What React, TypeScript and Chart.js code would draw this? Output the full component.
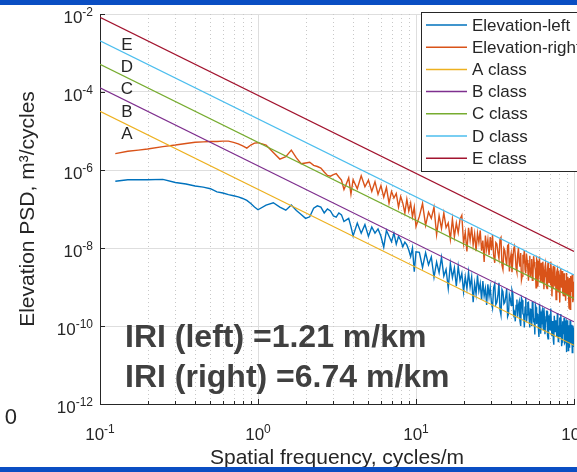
import { useEffect, useRef } from "react";
import { Chart, registerables } from "chart.js";

Chart.register(...registerables);

// Spatial frequency grid (cycles/m)
const FREQ = [
  0.125, 0.15, 0.175, 0.2, 0.25, 0.3, 0.35, 0.4, 0.45, 0.5, 0.55, 0.6, 0.65, 0.7, 0.75, 0.8, 0.85, 0.9, 0.95, 1,
  1.125, 1.25, 1.375, 1.5, 1.625, 1.75, 1.875, 2, 2.125, 2.25, 2.375, 2.5, 2.625, 2.75, 2.875, 3, 3.125, 3.25, 3.375, 3.5, 3.625, 3.75, 3.875, 4,
  4.25, 4.5, 4.75, 5, 5.25, 5.5, 5.75, 6, 6.25, 6.5, 6.75, 7, 7.25, 7.5, 7.75, 8, 8.25, 8.5, 8.75, 9, 9.25, 9.5, 9.75, 10,
  10.5, 11, 11.5, 12, 12.5, 13, 13.5, 14, 14.5, 15, 15.5, 16, 16.5, 17, 17.5, 18, 18.5, 19, 19.5, 20,
  20.5, 21, 21.5, 22, 22.5, 23, 23.5, 24, 24.5, 25, 25.5, 26, 26.5, 27, 27.5, 28, 28.5, 29, 29.5, 30,
  30.5, 31, 31.5, 32, 32.5, 33, 33.5, 34, 34.5, 35, 35.5, 36, 36.5, 37, 37.5, 38, 38.5, 39, 39.5, 40,
  40.5, 41, 41.5, 42, 42.5, 43, 43.5, 44, 44.5, 45, 45.5, 46, 46.5, 47, 47.5, 48, 48.5, 49, 49.5, 50,
  50.5, 51, 51.5, 52, 52.5, 53, 53.5, 54, 54.5, 55, 55.5, 56, 56.5, 57, 57.5, 58, 58.5, 59, 59.5, 60,
  60.5, 61, 61.5, 62, 62.5, 63, 63.5, 64, 64.5, 65, 65.5, 66, 66.5, 67, 67.5, 68, 68.5, 69, 69.5, 70,
  70.5, 71, 71.5, 72, 72.5, 73, 73.5, 74, 74.5, 75, 75.5, 76, 76.5, 77, 77.5, 78, 78.5, 79, 79.5, 80,
  80.5, 81, 81.5, 82, 82.5, 83, 83.5, 84, 84.5, 85, 85.5, 86, 86.5, 87, 87.5, 88, 88.5, 89, 89.5, 90,
  90.5, 91, 91.5, 92, 92.5, 93, 93.5, 94, 94.5, 95, 95.5, 96, 96.5, 97, 97.5, 98, 98.5, 99, 99.5, 100,
];

// Elevation PSD, log10(m^3/cycles)
const ELEVATION_LEFT_LOG10 = [
  -6.29, -6.25, -6.25, -6.25, -6.24, -6.32, -6.36, -6.41, -6.44, -6.48, -6.56, -6.59, -6.63, -6.66, -6.69, -6.73, -6.78, -6.86, -6.95, -7.02,
  -6.90, -6.84, -6.95, -7.03, -6.90, -7.04, -7.14, -7.24, -7.20, -6.98, -6.92, -6.95, -7.10, -7.00, -7.05, -7.18, -7.21, -7.10, -7.15, -7.32, -7.28, -7.24, -7.45, -7.69,
  -7.36, -7.62, -7.40, -7.70, -7.46, -7.62, -7.51, -7.70, -7.98, -7.55, -7.70, -7.84, -7.62, -7.90, -7.70, -7.80, -7.97, -7.85, -7.92, -8.05, -8.22, -8.00, -8.61, -8.10,
  -8.11, -8.50, -8.12, -8.43, -8.23, -8.75, -8.36, -8.63, -8.24, -8.72, -8.55, -9.03, -8.40, -8.76, -8.51, -8.98, -8.47, -8.83, -8.65, -9.12,
  -8.74, -9.04, -8.62, -9.00, -8.74, -9.39, -8.91, -9.18, -8.70, -9.10, -8.91, -9.33, -8.85, -9.23, -9.04, -9.46, -8.93, -9.24, -9.01, -9.39,
  -9.54, -9.02, -8.92, -9.45, -9.39, -9.21, -8.89, -9.58, -9.72, -9.06, -9.12, -9.43, -9.39, -9.24, -9.04, -9.76, -9.69, -9.20, -9.29, -9.47,
  -9.08, -9.17, -9.71, -9.65, -9.88, -9.47, -9.32, -9.76, -9.47, -9.38, -9.87, -10.00, -9.28, -9.34, -9.69, -9.70, -10.04, -9.52, -9.27, -9.90,
  -9.71, -9.40, -9.39, -9.80, -10.04, -9.57, -9.58, -10.00, -9.37, -9.51, -9.91, -9.80, -10.22, -9.46, -9.52, -9.95, -9.69, -9.72, -10.05, -10.28,
  -9.43, -9.63, -10.20, -9.94, -9.67, -9.60, -9.93, -10.09, -9.54, -9.75, -10.21, -9.92, -9.85, -9.62, -9.62, -10.24, -10.33, -9.76, -9.74, -10.09,
  -10.10, -9.72, -9.55, -10.03, -10.26, -9.89, -9.87, -10.36, -10.48, -9.74, -9.74, -10.14, -9.87, -9.87, -10.26, -10.28, -9.67, -9.84, -10.40, -10.08,
  -9.99, -9.78, -10.26, -10.27, -9.69, -9.98, -10.52, -10.41, -9.89, -9.88, -10.14, -10.21, -9.79, -9.95, -10.44, -10.41, -9.91, -9.88, -10.67, -10.21,
  -9.85, -10.04, -10.28, -10.63, -10.05, -9.98, -10.56, -10.37, -9.85, -10.13, -10.42, -10.44, -10.13, -9.97, -10.68, -10.32, -9.99, -10.07, -10.52, -10.52,
];

const ELEVATION_RIGHT_LOG10 = [
  -5.58, -5.52, -5.49, -5.46, -5.40, -5.36, -5.32, -5.29, -5.28, -5.27, -5.27, -5.26, -5.26, -5.29, -5.33, -5.38, -5.44, -5.36, -5.31, -5.30,
  -5.36, -5.55, -5.72, -5.66, -5.49, -5.69, -5.84, -5.82, -5.80, -5.88, -5.91, -5.95, -6.05, -6.14, -6.16, -6.12, -6.09, -6.18, -6.26, -6.50, -6.35, -6.20, -6.62, -6.25,
  -6.48, -6.15, -6.43, -6.26, -6.55, -6.30, -6.62, -6.40, -6.70, -6.45, -6.85, -6.55, -6.72, -6.60, -6.95, -6.68, -6.85, -7.10, -6.75, -7.05, -6.85, -7.20, -6.95, -7.45,
  -7.19, -6.86, -7.42, -7.08, -7.24, -6.95, -7.66, -7.17, -7.50, -7.10, -7.48, -7.36, -7.78, -7.26, -7.71, -7.36, -7.61, -7.26, -7.16, -7.88,
  -7.60, -8.09, -7.48, -7.80, -7.46, -7.92, -7.64, -8.08, -7.62, -7.86, -7.55, -8.07, -7.81, -8.36, -7.68, -8.03, -7.79, -8.18, -7.72, -8.05,
  -7.67, -8.18, -8.38, -7.86, -7.90, -8.12, -8.27, -7.78, -7.73, -8.44, -8.55, -8.01, -8.07, -8.29, -8.45, -7.94, -7.91, -8.60, -8.29, -8.15,
  -8.62, -8.33, -8.02, -7.95, -8.18, -8.52, -8.62, -8.17, -8.00, -8.36, -8.48, -8.13, -8.82, -8.72, -8.17, -8.28, -8.05, -8.56, -8.65, -8.14,
  -8.31, -8.54, -8.84, -8.41, -8.20, -8.75, -8.52, -8.28, -8.83, -8.70, -8.21, -8.36, -8.48, -8.57, -9.02, -8.28, -8.33, -8.99, -8.69, -8.46,
  -8.22, -8.73, -8.88, -8.38, -8.67, -8.88, -8.35, -8.55, -9.06, -8.73, -8.49, -8.40, -8.61, -8.99, -9.04, -8.55, -8.37, -8.72, -8.88, -8.51,
  -8.82, -8.96, -8.35, -8.63, -9.24, -8.87, -8.57, -8.46, -8.98, -8.95, -8.48, -8.72, -8.79, -9.32, -9.18, -8.62, -8.55, -8.90, -9.12, -8.59,
  -8.69, -9.12, -9.40, -8.73, -8.53, -8.92, -9.02, -8.59, -8.79, -9.10, -9.22, -8.73, -8.65, -9.24, -8.98, -8.83, -9.35, -9.02, -8.64, -8.71,
  -9.19, -9.10, -8.74, -8.83, -9.27, -9.54, -8.86, -8.77, -9.57, -9.18, -8.72, -8.84, -9.13, -9.02, -8.68, -8.74, -9.39, -9.31, -8.90, -8.92,
];

// ISO 8608 class upper limits, at the two ends of the frequency axis
const CLASS_FREQ = [0.1, 100];
const A_CLASS = [3.2e-5, 3.2e-11];
const B_CLASS = [1.28e-4, 1.28e-10];
const C_CLASS = [5.12e-4, 5.12e-10];
const D_CLASS = [2.048e-3, 2.048e-9];
const E_CLASS = [8.192e-3, 8.192e-9];

const CLASS_LETTERS = ["E", "D", "C", "B", "A"];
const CLASS_LETTER_FREQ = 0.148;
const CLASS_LETTER_VALUES = [1.6e-3, 4.4e-4, 1.19e-4, 3.07e-5, 8.4e-6];

const X_TICKS = [0.1, 1, 10, 100];
const X_TICK_EXP = ["-1", "0", "1", "2"];
const Y_TICKS = [1e-12, 1e-10, 1e-8, 1e-6, 1e-4, 1e-2];
const Y_TICK_EXP = ["-12", "-10", "-8", "-6", "-4", "-2"];
const X_DECADES = [0.1, 1, 10];
const MINOR_MULT = [2, 3, 4, 5, 6, 7, 8, 9];

const IRI_LINES = ["IRI (left) =1.21 m/km", "IRI (right) =6.74 m/km"];

const COLORS = {
  left: "#0072BD",
  right: "#D95319",
  A: "#EDB120",
  B: "#7E2F8E",
  C: "#77AC30",
  D: "#4DBEEE",
  E: "#A2142F",
};

const FONT = '"Liberation Sans", Arial, Helvetica, sans-serif';
const AXIS = "#262626";

function App() {
  const ref = useRef<HTMLCanvasElement | null>(null);

  useEffect(() => {
    document.body.style.margin = "0";
    document.body.style.overflow = "hidden";
    const canvas = ref.current;
    if (!canvas) return;

    const series = (vals: number[]) => FREQ.map((f, i) => ({ x: f, y: Math.pow(10, vals[i]) }));
    const cls = (vals: number[]) => CLASS_FREQ.map((f, i) => ({ x: f, y: vals[i] }));

    const datasets: any[] = [
      { label: "Elevation-left", data: series(ELEVATION_LEFT_LOG10), borderColor: COLORS.left, order: 7, borderWidth: 1.4 },
      { label: "Elevation-right", data: series(ELEVATION_RIGHT_LOG10), borderColor: COLORS.right, order: 6, borderWidth: 1.4 },
      { label: "A class", data: cls(A_CLASS), borderColor: COLORS.A, order: 5, borderWidth: 1.2 },
      { label: "B class", data: cls(B_CLASS), borderColor: COLORS.B, order: 4, borderWidth: 1.2 },
      { label: "C class", data: cls(C_CLASS), borderColor: COLORS.C, order: 3, borderWidth: 1.2 },
      { label: "D class", data: cls(D_CLASS), borderColor: COLORS.D, order: 2, borderWidth: 1.2 },
      { label: "E class", data: cls(E_CLASS), borderColor: COLORS.E, order: 1, borderWidth: 1.2 },
    ].map((d) => ({ ...d, pointRadius: 0, fill: false, tension: 0 }));

    const drawPow = (ctx: CanvasRenderingContext2D, exp: string, x: number, baseY: number, align: "right" | "center", big: number, small: number) => {
      ctx.font = `${big}px ${FONT}`;
      const w1 = ctx.measureText("10").width;
      ctx.font = `${small}px ${FONT}`;
      const w2 = ctx.measureText(exp).width;
      const total = w1 + w2;
      const start = align === "right" ? x - total : x - total / 2;
      ctx.textAlign = "left";
      ctx.textBaseline = "alphabetic";
      ctx.font = `${big}px ${FONT}`;
      ctx.fillText("10", start, baseY);
      ctx.font = `${small}px ${FONT}`;
      ctx.fillText(exp, start + w1, baseY - 7);
    };

    const overlay = {
      id: "overlay",
      beforeDraw(chart: any) {
        const { ctx } = chart;
        ctx.save();
        ctx.fillStyle = "#ffffff";
        ctx.fillRect(0, 0, chart.width, chart.height);
        ctx.restore();
      },
      beforeDatasetsDraw(chart: any) {
        const { ctx, chartArea: a, scales } = chart;
        const x = scales.x;
        ctx.save();
        ctx.strokeStyle = "#c8c8c8";
        ctx.lineWidth = 1;
        ctx.setLineDash([1, 3]);
        for (const d of X_DECADES) {
          for (const k of MINOR_MULT) {
            const px = Math.round(x.getPixelForValue(d * k)) + 0.5;
            ctx.beginPath();
            ctx.moveTo(px, a.top);
            ctx.lineTo(px, a.bottom);
            ctx.stroke();
          }
        }
        ctx.restore();
      },
      afterDatasetsDraw(chart: any) {
        const { ctx, chartArea: a, scales } = chart;
        const x = scales.x;
        const y = scales.y;
        ctx.save();

        // inner tick marks
        ctx.strokeStyle = AXIS;
        ctx.lineWidth = 1;
        ctx.setLineDash([]);
        for (const d of X_DECADES) {
          for (const k of MINOR_MULT) {
            const px = Math.round(x.getPixelForValue(d * k)) + 0.5;
            ctx.beginPath();
            ctx.moveTo(px, a.bottom);
            ctx.lineTo(px, a.bottom - 3);
            ctx.stroke();
          }
        }
        for (const v of X_TICKS) {
          const px = Math.round(x.getPixelForValue(v)) + 0.5;
          ctx.beginPath();
          ctx.moveTo(px, a.bottom);
          ctx.lineTo(px, a.bottom - 5);
          ctx.stroke();
        }
        for (const v of Y_TICKS) {
          const py = Math.round(y.getPixelForValue(v)) + 0.5;
          ctx.beginPath();
          ctx.moveTo(a.left, py);
          ctx.lineTo(a.left + 5, py);
          ctx.stroke();
        }

        // tick labels
        ctx.fillStyle = AXIS;
        Y_TICKS.forEach((v, i) => {
          const py = y.getPixelForValue(v);
          drawPow(ctx, Y_TICK_EXP[i], a.left - 7, py + 9, "right", 17, 12);
        });
        X_TICKS.forEach((v, i) => {
          const px = x.getPixelForValue(v);
          drawPow(ctx, X_TICK_EXP[i], px, a.bottom + 36, "center", 17, 12);
        });

        // axis titles
        ctx.font = `21px ${FONT}`;
        ctx.textAlign = "center";
        ctx.textBaseline = "alphabetic";
        ctx.fillText("Spatial frequency, cycles/m", (a.left + a.right) / 2, 464);
        ctx.save();
        ctx.translate(34, (a.top + a.bottom) / 2);
        ctx.rotate(-Math.PI / 2);
        ctx.fillText("Elevation PSD, m³/cycles", 0, 0);
        ctx.restore();

        // class letters
        ctx.font = `17px ${FONT}`;
        ctx.textAlign = "center";
        ctx.textBaseline = "middle";
        CLASS_LETTERS.forEach((t, i) => {
          ctx.fillText(t, x.getPixelForValue(CLASS_LETTER_FREQ), y.getPixelForValue(CLASS_LETTER_VALUES[i]));
        });

        // IRI annotation
        ctx.fillStyle = "#404040";
        ctx.font = `bold 32px ${FONT}`;
        ctx.textAlign = "left";
        ctx.textBaseline = "alphabetic";
        ctx.fillText(IRI_LINES[0], 125, 347);
        ctx.fillText(IRI_LINES[1], 125, 387);

        // legend
        const lx = 421.5;
        const ly = 12.5;
        ctx.fillStyle = "#ffffff";
        ctx.fillRect(lx, ly, 200, 159);
        ctx.strokeStyle = AXIS;
        ctx.lineWidth = 1;
        ctx.strokeRect(lx, ly, 200, 159);
        ctx.font = `17px ${FONT}`;
        ctx.textBaseline = "middle";
        chart.data.datasets.forEach((ds: any, i: number) => {
          const cy = 25 + i * 22.2;
          ctx.strokeStyle = ds.borderColor;
          ctx.lineWidth = 1.5;
          ctx.beginPath();
          ctx.moveTo(426, cy);
          ctx.lineTo(467, cy);
          ctx.stroke();
          ctx.fillStyle = AXIS;
          ctx.fillText(ds.label, 472, cy + 1);
        });

        // surrounding slide decorations
        ctx.fillStyle = AXIS;
        ctx.font = `22px ${FONT}`;
        ctx.textAlign = "right";
        ctx.textBaseline = "alphabetic";
        ctx.fillText("0", 17, 424);
        ctx.fillStyle = "#0a4ec3";
        ctx.fillRect(0, 0, chart.width, 5);
        ctx.fillRect(0, chart.height - 5, chart.width, 5);

        ctx.restore();
      },
    };

    const chart = new Chart(canvas, {
      type: "line",
      data: { datasets },
      options: {
        animation: false,
        responsive: false,
        devicePixelRatio: 1,
        layout: { padding: { left: 100, right: 3, top: 14, bottom: 68 } },
        plugins: { legend: { display: false }, tooltip: { enabled: false } },
        scales: {
          x: {
            type: "logarithmic",
            min: 0.1,
            max: 100,
            afterBuildTicks: (s: any) => {
              s.ticks = X_TICKS.map((v) => ({ value: v }));
            },
            afterFit: (s: any) => {
              s.height = 0;
              s.paddingLeft = 0;
              s.paddingRight = 0;
            },
            ticks: { display: false },
            grid: { color: "#dedede", drawTicks: false, lineWidth: 1 },
            border: { color: AXIS, width: 1 },
          },
          y: {
            type: "logarithmic",
            min: 1e-12,
            max: 1e-2,
            afterBuildTicks: (s: any) => {
              s.ticks = Y_TICKS.map((v) => ({ value: v }));
            },
            afterFit: (s: any) => {
              s.width = 0;
              s.paddingTop = 0;
              s.paddingBottom = 0;
            },
            ticks: { display: false },
            grid: { color: "#dedede", drawTicks: false, lineWidth: 1 },
            border: { color: AXIS, width: 1 },
          },
        },
      } as any,
      plugins: [overlay],
    });

    return () => chart.destroy();
  }, []);

  return <canvas ref={ref} width={577} height={472} style={{ display: "block", width: 577, height: 472 }} />;
}

export default App;
